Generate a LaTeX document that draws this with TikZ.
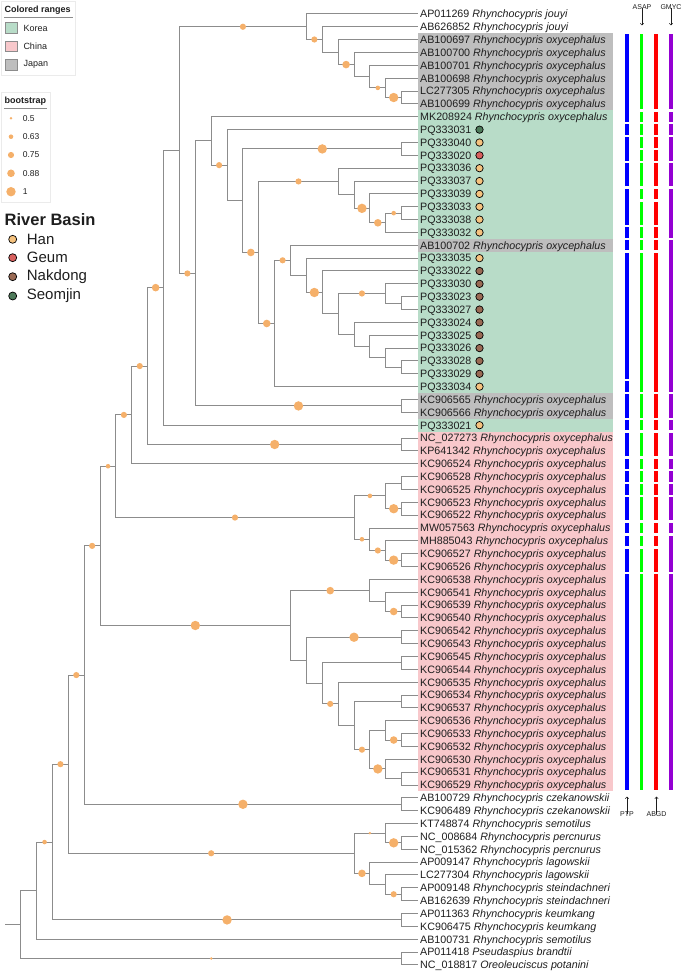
\documentclass[tikz,border=0pt]{standalone}
\usepackage{fontspec}
\setmainfont{Liberation Sans}
\usetikzlibrary{calc,arrows.meta}
\definecolor{kor}{HTML}{B8DCC8}
\definecolor{chn}{HTML}{F8C8CB}
\definecolor{jpn}{HTML}{BEBEBE}
\definecolor{bsc}{HTML}{F5B06A}
\definecolor{brc}{HTML}{8C8C8C}
\definecolor{han}{HTML}{F5C27E}
\definecolor{geum}{HTML}{D8605E}
\definecolor{nak}{HTML}{9A6A54}
\definecolor{seo}{HTML}{4E7A5A}
\definecolor{ptp}{HTML}{0000FF}
\definecolor{asap}{HTML}{00FF00}
\definecolor{abgd}{HTML}{FF0000}
\definecolor{gmyc}{HTML}{9400D3}
\definecolor{txt}{HTML}{1E1E1E}
\newcommand\inode[4]{\coordinate (m#1) at ($(#3)!0.5!(#4)$);\coordinate (#1) at (m#1 -| h#2);\draw[br] (#1) |- (#3);\draw[br] (#1) |- (#4);}
\newcommand\bs[3]{\path (#1) |- (#2) node[pos=0.75,bs#3]{};}
\newcommand\rng[3]{\fill[#1] (417.5,{14+(#2-1)*12.85-6.425}) rectangle (612.5,{14+(#3-1)*12.85+6.425});}
\newcommand\seg[4]{\fill[#2] ({#1-1.8},{14+(#3-1)*12.85-5.2}) rectangle ({#1+1.8},{14+(#4-1)*12.85+5.2});}
\newcommand\bars[3]{\foreach \a/\b in {#3}{\seg{#1}{#2}{\a}{\b}}}
\newcommand\lab[3]{\node[lab] (L#1) at (t#1) {#2 \textit{#3}};}
\newcommand\ox[2]{\lab{#1}{#2}{Rhynchocypris oxycephalus}}
\newcommand\pq[3]{\node[lab] (L#1) at (t#1) {#2};\node[rb,fill=#3] (R#1) at (t#1 -| rbx) {};}
\begin{document}
\begin{tikzpicture}[x=1pt,y=-1pt,
 br/.style={draw=brc,line width=1pt},
 bsA/.style={circle,fill=bsc,inner sep=0,minimum size=2.8pt},
 bsB/.style={circle,fill=bsc,inner sep=0,minimum size=4.6pt},
 bsC/.style={circle,fill=bsc,inner sep=0,minimum size=6.2pt},
 bsD/.style={circle,fill=bsc,inner sep=0,minimum size=7.6pt},
 bsE/.style={circle,fill=bsc,inner sep=0,minimum size=9.4pt},
 lab/.style={anchor=base west,inner sep=0,xshift=2.5pt,yshift=-3.8pt,font=\fontsize{10.7}{12.8}\selectfont,text=txt},
 rb/.style={circle,draw=black,line width=0.7pt,inner sep=0,minimum size=7.4pt},
 leg/.style={anchor=west,inner sep=0,text=txt},
 sm/.style={inner sep=0,text=txt,font=\fontsize{7}{8}\selectfont},
 arr/.style={-{Straight Barb[length=1.8pt,width=3.4pt]},line width=0.5pt,draw=txt},
]
\useasboundingbox (0,0) rectangle (685,973);
\foreach \i in {1,...,75} \coordinate (t\i) at (417.5,{14+(\i-1)*12.85});
\foreach \h in {1,...,25} \coordinate (h\h) at ({417.5-15.87*\h},0);
\coordinate (rbx) at (479.5,0);
\coordinate (rs) at (5,0);
% colored ranges
\rng{jpn}{3}{8}\rng{kor}{9}{18}\rng{jpn}{19}{19}\rng{kor}{20}{30}\rng{jpn}{31}{32}\rng{kor}{33}{33}\rng{chn}{34}{61}
% clade A
\inode{a1}{1}{t7}{t8}\inode{a2}{2}{t6}{a1}\inode{a3}{3}{t5}{a2}\inode{a4}{4}{t4}{a3}
\inode{a5}{5}{t3}{a4}\inode{a6}{6}{t2}{a5}\inode{a7}{7}{t1}{a6}
% clade B
\inode{e1}{1}{t16}{t17}\inode{e2}{2}{e1}{t18}\inode{e3}{3}{t15}{e2}\inode{e4}{4}{t14}{e3}\inode{e5}{5}{t13}{e4}
\inode{f1}{1}{t28}{t29}\inode{f2}{2}{t27}{f1}\inode{f3}{3}{t26}{f2}\inode{f4}{4}{t25}{f3}
\inode{g1}{1}{t23}{t24}\inode{g2}{2}{t22}{g1}\inode{f5}{5}{g2}{f4}\inode{f6}{6}{t21}{f5}
\inode{f7}{7}{t20}{f6}\inode{f8}{8}{t19}{f7}\inode{f9}{9}{f8}{t30}\inode{b10}{10}{e5}{f9}
\inode{c11}{1}{t11}{t12}\inode{b11}{11}{c11}{b10}\inode{b12}{12}{t10}{b11}\inode{b13}{13}{t9}{b12}
\inode{c31}{1}{t31}{t32}\inode{b14}{14}{b13}{c31}
% backbone
\inode{n15}{15}{a7}{b14}\inode{n16}{16}{n15}{t33}\inode{c34}{1}{t34}{t35}\inode{n17}{17}{n16}{c34}
\inode{n18}{18}{n17}{t36}
\inode{k1}{1}{t37}{t38}\inode{k2}{1}{t39}{t40}\inode{k3}{2}{k1}{k2}\inode{k4}{1}{t43}{t44}
\inode{k5}{2}{t42}{k4}\inode{k6}{3}{t41}{k5}\inode{k7}{4}{k3}{k6}\inode{n19}{19}{n18}{k7}
\inode{p1}{1}{t47}{t48}\inode{p2}{2}{t46}{p1}\inode{p3}{3}{t45}{p2}
\inode{q1}{1}{t49}{t50}\inode{q2}{1}{t51}{t52}\inode{q3}{1}{t54}{t55}\inode{q4}{1}{t57}{t58}
\inode{q5}{2}{t56}{q4}\inode{q6}{1}{t60}{t61}\inode{q7}{2}{t59}{q6}\inode{q8}{3}{q5}{q7}
\inode{q9}{4}{q3}{q8}\inode{q10}{5}{t53}{q9}\inode{q11}{6}{q2}{q10}\inode{q12}{7}{q1}{q11}
\inode{p8}{8}{p3}{q12}\inode{n20}{20}{n19}{p8}\inode{c62}{1}{t62}{t63}\inode{n21}{21}{n20}{c62}
\inode{d1}{1}{t65}{t66}\inode{d2}{2}{t64}{d1}\inode{d3}{1}{t69}{t70}\inode{d4}{2}{t68}{d3}
\inode{d5}{3}{t67}{d4}\inode{d6}{4}{d2}{d5}\inode{n22}{22}{n21}{d6}
\inode{c71}{1}{t71}{t72}\inode{n23}{23}{n22}{c71}\inode{n24}{24}{n23}{t73}
\inode{c74}{1}{t74}{t75}\inode{n25}{25}{n24}{c74}
\draw[br] (n25) -- (n25 -| rs);
% bootstrap
\bs{n15}{a7}{C}\bs{a7}{a6}{C}\bs{a5}{a4}{D}\bs{a3}{a2}{B}\bs{a2}{a1}{E}
\bs{n15}{b14}{C}\bs{b13}{b12}{C}\bs{b11}{c11}{E}\bs{b11}{b10}{D}\bs{b10}{e5}{C}
\bs{e4}{e3}{E}\bs{e3}{e2}{D}\bs{e2}{e1}{B}\bs{b10}{f9}{D}\bs{f9}{f8}{C}\bs{f7}{f6}{E}\bs{f5}{g2}{C}
\bs{b14}{c31}{E}\bs{n17}{n16}{D}\bs{n18}{n17}{C}\bs{n17}{c34}{E}\bs{n19}{n18}{C}\bs{n20}{n19}{B}
\bs{n19}{k7}{C}\bs{k7}{k3}{B}\bs{k3}{k2}{E}\bs{k7}{k6}{B}\bs{k6}{k5}{C}\bs{k5}{k4}{E}
\bs{n21}{n20}{C}\bs{n20}{p8}{E}\bs{p8}{p3}{D}\bs{p2}{p1}{D}\bs{q12}{q1}{E}\bs{q11}{q10}{C}
\bs{q9}{q8}{C}\bs{q8}{q7}{E}\bs{q5}{q4}{D}
\bs{n22}{n21}{C}\bs{n21}{c62}{E}\bs{n23}{n22}{C}\bs{n22}{d6}{C}\bs{d6}{d2}{A}\bs{d2}{d1}{E}
\bs{d6}{d5}{D}\bs{d4}{d3}{C}\bs{n24}{n23}{B}\bs{n23}{c71}{E}\bs{n25}{c74}{A}
% labels
\lab{1}{AP011269}{Rhynchocypris jouyi}\lab{2}{AB626852}{Rhynchocypris jouyi}
\ox{3}{AB100697}\ox{4}{AB100700}\ox{5}{AB100701}\ox{6}{AB100698}\ox{7}{LC277305}\ox{8}{AB100699}\ox{9}{MK208924}
\pq{10}{PQ333031}{seo}\pq{11}{PQ333040}{han}\pq{12}{PQ333020}{geum}\pq{13}{PQ333036}{han}
\pq{14}{PQ333037}{han}\pq{15}{PQ333039}{han}\pq{16}{PQ333033}{han}\pq{17}{PQ333038}{han}\pq{18}{PQ333032}{han}
\ox{19}{AB100702}
\pq{20}{PQ333035}{han}\pq{21}{PQ333022}{nak}\pq{22}{PQ333030}{nak}\pq{23}{PQ333023}{nak}\pq{24}{PQ333027}{nak}
\pq{25}{PQ333024}{nak}\pq{26}{PQ333025}{nak}\pq{27}{PQ333026}{nak}\pq{28}{PQ333028}{nak}\pq{29}{PQ333029}{nak}
\pq{30}{PQ333034}{han}
\ox{31}{KC906565}\ox{32}{KC906566}\pq{33}{PQ333021}{han}
\ox{34}{NC\_027273}\ox{35}{KP641342}\ox{36}{KC906524}\ox{37}{KC906528}\ox{38}{KC906525}\ox{39}{KC906523}
\ox{40}{KC906522}\ox{41}{MW057563}\ox{42}{MH885043}\ox{43}{KC906527}\ox{44}{KC906526}\ox{45}{KC906538}
\ox{46}{KC906541}\ox{47}{KC906539}\ox{48}{KC906540}\ox{49}{KC906542}\ox{50}{KC906543}\ox{51}{KC906545}
\ox{52}{KC906544}\ox{53}{KC906535}\ox{54}{KC906534}\ox{55}{KC906537}\ox{56}{KC906536}\ox{57}{KC906533}
\ox{58}{KC906532}\ox{59}{KC906530}\ox{60}{KC906531}\ox{61}{KC906529}
\lab{62}{AB100729}{Rhynchocypris czekanowskii}\lab{63}{KC906489}{Rhynchocypris czekanowskii}
\lab{64}{KT748874}{Rhynchocypris semotilus}\lab{65}{NC\_008684}{Rhynchocypris percnurus}
\lab{66}{NC\_015362}{Rhynchocypris percnurus}\lab{67}{AP009147}{Rhynchocypris lagowskii}
\lab{68}{LC277304}{Rhynchocypris lagowskii}\lab{69}{AP009148}{Rhynchocypris steindachneri}
\lab{70}{AB162639}{Rhynchocypris steindachneri}\lab{71}{AP011363}{Rhynchocypris keumkang}
\lab{72}{KC906475}{Rhynchocypris keumkang}\lab{73}{AB100731}{Rhynchocypris semotilus}
\lab{74}{AP011418}{Pseudaspius brandtii}\lab{75}{NC\_018817}{Oreoleuciscus potanini}
% delimitation bars
\bars{627}{ptp}{3/9,10/10,11/12,13/14,15/17,18/18,19/19,20/29,30/30,31/32,33/33,34/35,36/36,37/37,38/38,39/40,41/41,42/42,43/44,45/61}
\bars{641.5}{asap}{3/8,9/9,10/10,11/11,12/12,13/14,15/15,16/17,18/18,19/19,20/30,31/32,33/33,34/35,36/36,37/37,38/38,39/40,41/41,42/42,43/44,45/61}
\bars{656}{abgd}{3/8,9/9,10/10,11/11,12/12,13/14,15/15,16/17,18/18,19/19,20/30,31/32,33/33,34/35,36/36,37/37,38/38,39/40,41/41,42/42,43/44,45/61}
\bars{671}{gmyc}{3/8,9/9,10/10,11/12,13/14,15/18,19/30,31/32,33/33,34/35,36/36,37/37,38/38,39/40,41/41,42/44,45/61}
\node[sm] (asapt) at (642,7.5) {ASAP};
\node[sm] (gmyct) at (671,7.5) {GMYC};
\coordinate (asapa) at (642,25.5);\coordinate (gmyca) at (671,25.5);
\draw[arr] (asapt.south) ++(0,-2) -- (asapa);
\draw[arr] (gmyct.south) ++(0,-2) -- (gmyca);
\node[sm] (ptpt) at (627,814.5) {PTP};
\node[sm] (abgdt) at (656.5,814.5) {ABGD};
\coordinate (ptpa) at (627,796.5);\coordinate (abgda) at (656.5,796.5);
\draw[arr] (ptpt.north) ++(0,2) -- (ptpa);
\draw[arr] (abgdt.north) ++(0,2) -- (abgda);
% legend: colored ranges
\draw[draw=black!8,line width=0.5pt] (1,1) rectangle (75.5,75.5);
\node[leg,font=\fontsize{9}{10}\selectfont\bfseries] (crt) at (4.5,10) {Colored ranges};
\draw[black!45,line width=0.6pt] (4,17.3) -- (73,17.3);
\node[draw=black!45,fill=kor,minimum width=12.4pt,minimum height=10.8pt,inner sep=0,line width=0.5pt] (sqk) at (11,28) {};
\node[draw=black!45,fill=chn,minimum width=12.4pt,minimum height=10.8pt,inner sep=0,line width=0.5pt] (sqc) at (11,46.2) {};
\node[draw=black!45,fill=jpn,minimum width=12.4pt,minimum height=10.8pt,inner sep=0,line width=0.5pt] (sqj) at (11,64.5) {};
\node[leg,font=\fontsize{9}{10}\selectfont] (lk) at (23.3,28) {Korea};
\node[leg,font=\fontsize{9}{10}\selectfont] (lc) at (23.3,46.2) {China};
\node[leg,font=\fontsize{9}{10}\selectfont] (lj) at (23.3,64.5) {Japan};
% legend: bootstrap
\draw[draw=black!8,line width=0.5pt] (1,92) rectangle (50,202);
\node[leg,font=\fontsize{9}{10}\selectfont\bfseries] (bst) at (4.5,100.7) {bootstrap};
\draw[black!45,line width=0.6pt] (4,108.3) -- (47,108.3);
\node[bsA] (b1) at (11,118.3) {};\node[bsB] (b2) at (11,136.7) {};\node[bsC] (b3) at (11,155) {};
\node[bsD] (b4) at (11,173.3) {};\node[bsE] (b5) at (11,191.7) {};
\node[leg,font=\fontsize{8.5}{9}\selectfont] (lb1) at (22.7,118.3) {0.5};
\node[leg,font=\fontsize{8.5}{9}\selectfont] (lb2) at (22.7,136.7) {0.63};
\node[leg,font=\fontsize{8.5}{9}\selectfont] (lb3) at (22.7,155) {0.75};
\node[leg,font=\fontsize{8.5}{9}\selectfont] (lb4) at (22.7,173.3) {0.88};
\node[leg,font=\fontsize{8.5}{9}\selectfont] (lb5) at (22.7,191.7) {1};
% legend: river basin
\node[leg,font=\fontsize{16.5}{18}\selectfont\bfseries] (rbt) at (4.5,220) {River Basin};
\node[rb,fill=han,minimum size=8pt] (rh) at (12.7,239.3) {};
\node[rb,fill=geum,minimum size=8pt] (rg) at (12.7,257.7) {};
\node[rb,fill=nak,minimum size=8pt] (rn) at (12.7,276.7) {};
\node[rb,fill=seo,minimum size=8pt] (rsj) at (12.7,296) {};
\node[leg,font=\fontsize{15}{17}\selectfont] (lh) at (26.7,239.3) {Han};
\node[leg,font=\fontsize{15}{17}\selectfont] (lg) at (26.7,257.7) {Geum};
\node[leg,font=\fontsize{15}{17}\selectfont] (ln) at (26.7,276.7) {Nakdong};
\node[leg,font=\fontsize{15}{17}\selectfont] (ls) at (26.7,296) {Seomjin};
\end{tikzpicture}
\end{document}
